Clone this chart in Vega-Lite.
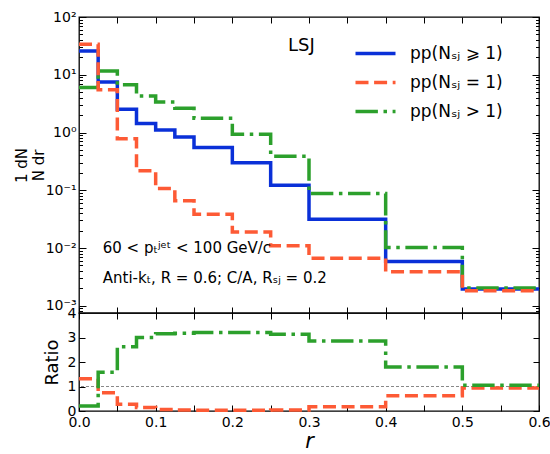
{
  "$schema": "https://vega.github.io/schema/vega-lite/v6.json",
  "padding": {"left": 13, "top": 9, "right": 0, "bottom": 0},
  "datasets": {
    "dist": [
      {"r": 0, "s": "ge", "v": 25.8}, {"r": 0.025, "s": "ge", "v": 7.5}, {"r": 0.05, "s": "ge", "v": 2.53},
      {"r": 0.075, "s": "ge", "v": 1.43}, {"r": 0.1, "s": "ge", "v": 1.11}, {"r": 0.125, "s": "ge", "v": 0.84},
      {"r": 0.15, "s": "ge", "v": 0.55}, {"r": 0.2, "s": "ge", "v": 0.30}, {"r": 0.25, "s": "ge", "v": 0.122},
      {"r": 0.3, "s": "ge", "v": 0.0316}, {"r": 0.4, "s": "ge", "v": 0.00585}, {"r": 0.5, "s": "ge", "v": 0.00195},
      {"r": 0.6, "s": "ge", "v": 0.00195},
      {"r": 0, "s": "gt", "v": 6.0}, {"r": 0.025, "s": "gt", "v": 11.6}, {"r": 0.05, "s": "gt", "v": 6.7},
      {"r": 0.075, "s": "gt", "v": 4.3}, {"r": 0.1, "s": "gt", "v": 3.39}, {"r": 0.125, "s": "gt", "v": 2.63},
      {"r": 0.15, "s": "gt", "v": 1.77}, {"r": 0.2, "s": "gt", "v": 0.93}, {"r": 0.25, "s": "gt", "v": 0.39},
      {"r": 0.3, "s": "gt", "v": 0.0877}, {"r": 0.4, "s": "gt", "v": 0.0102}, {"r": 0.5, "s": "gt", "v": 0.00204},
      {"r": 0.6, "s": "gt", "v": 0.00204},
      {"r": 0, "s": "eq", "v": 33.7}, {"r": 0.025, "s": "eq", "v": 5.5}, {"r": 0.05, "s": "eq", "v": 0.78},
      {"r": 0.075, "s": "eq", "v": 0.217}, {"r": 0.1, "s": "eq", "v": 0.107}, {"r": 0.125, "s": "eq", "v": 0.066},
      {"r": 0.15, "s": "eq", "v": 0.0386}, {"r": 0.2, "s": "eq", "v": 0.019}, {"r": 0.25, "s": "eq", "v": 0.0109},
      {"r": 0.3, "s": "eq", "v": 0.00668}, {"r": 0.4, "s": "eq", "v": 0.0039}, {"r": 0.5, "s": "eq", "v": 0.00182},
      {"r": 0.6, "s": "eq", "v": 0.00182}
    ],
    "ratio": [
      {"r": 0, "s": "eq", "v": 1.32}, {"r": 0.025, "s": "eq", "v": 0.74}, {"r": 0.05, "s": "eq", "v": 0.28},
      {"r": 0.075, "s": "eq", "v": 0.14}, {"r": 0.1, "s": "eq", "v": 0.06}, {"r": 0.125, "s": "eq", "v": 0.04},
      {"r": 0.15, "s": "eq", "v": 0.03}, {"r": 0.2, "s": "eq", "v": 0.03}, {"r": 0.25, "s": "eq", "v": 0.04},
      {"r": 0.3, "s": "eq", "v": 0.17}, {"r": 0.4, "s": "eq", "v": 0.62}, {"r": 0.5, "s": "eq", "v": 0.94},
      {"r": 0.6, "s": "eq", "v": 0.94},
      {"r": 0, "s": "gt", "v": 0.2}, {"r": 0.025, "s": "gt", "v": 1.58}, {"r": 0.05, "s": "gt", "v": 2.62},
      {"r": 0.075, "s": "gt", "v": 3.0}, {"r": 0.1, "s": "gt", "v": 3.15}, {"r": 0.125, "s": "gt", "v": 3.17},
      {"r": 0.15, "s": "gt", "v": 3.2}, {"r": 0.2, "s": "gt", "v": 3.2}, {"r": 0.25, "s": "gt", "v": 3.13},
      {"r": 0.3, "s": "gt", "v": 2.86}, {"r": 0.4, "s": "gt", "v": 1.8}, {"r": 0.5, "s": "gt", "v": 1.05},
      {"r": 0.6, "s": "gt", "v": 1.05}
    ],
    "one": [{}]
  },
  "spacing": 0,
  "bounds": "flush",
  "resolve": {"scale": {"color": "independent", "strokeDash": "independent"}},
  "vconcat": [
    {
      "width": 460,
      "height": 296,
      "data": {"name": "dist"},
      "layer": [
        {
          "mark": {"type": "line", "interpolate": "step-after", "strokeWidth": 3.5, "strokeCap": "butt", "strokeJoin": "miter"},
          "encoding": {
            "x": {
              "field": "r", "type": "quantitative",
              "scale": {"domain": [0, 0.6], "nice": false},
              "axis": {"orient": "bottom", "values": [0, 0.05, 0.1, 0.15, 0.2, 0.25, 0.3, 0.35, 0.4, 0.45, 0.5, 0.55, 0.6], "labels": false, "title": null, "tickSize": -6}
            },
            "y": {
              "field": "v", "type": "quantitative",
              "scale": {"type": "log", "domain": [0.00075, 100], "nice": false},
              "axis": {
                "orient": "left",
                "values": [0.0008, 0.0009, 0.001, 0.002, 0.003, 0.004, 0.005, 0.006, 0.007, 0.008, 0.009, 0.01, 0.02, 0.03, 0.04, 0.05, 0.06, 0.07, 0.08, 0.09, 0.1, 0.2, 0.3, 0.4, 0.5, 0.6, 0.7, 0.8, 0.9, 1, 2, 3, 4, 5, 6, 7, 8, 9, 10, 20, 30, 40, 50, 60, 70, 80, 90, 100],
                "tickSize": {"condition": {"test": "abs(log(datum.value)/LN10 - round(log(datum.value)/LN10)) < 0.001", "value": -7}, "value": -3.5},
                "labelExpr": "datum.value > 99 ? '10²' : abs(datum.value-10) < 0.001 ? '10¹' : abs(datum.value-1) < 0.0001 ? '10⁰' : abs(datum.value-0.1) < 0.00001 ? '10⁻¹' : abs(datum.value-0.01) < 0.000001 ? '10⁻²' : abs(datum.value-0.001) < 0.0000001 ? '10⁻³' : ''",
                "labelOverlap": false,
                "labelPadding": 10,
                "title": ["1 dN", "N dr"],
                "titleFontSize": 15,
                "titleLineHeight": 17,
                "titleFontWeight": "normal",
                "titlePadding": -1
              }
            },
            "color": {
              "field": "s", "type": "nominal",
              "scale": {"domain": ["ge", "eq", "gt"], "range": ["#0a30d8", "#fd5a35", "#2ca02c"]},
              "legend": {
                "orient": "none", "legendX": 288, "legendY": 28, "title": null, "padding": 0,
                "symbolType": "M-20,0H20", "symbolSize": 4, "symbolStrokeWidth": 3.5,
                "labelFontSize": 17, "labelOffset": 26, "rowPadding": 11,
                "labelExpr": "datum.label == 'ge' ? 'pp(Nₛⱼ ⩾ 1)' : datum.label == 'eq' ? 'pp(Nₛⱼ = 1)' : 'pp(Nₛⱼ > 1)'"
              }
            },
            "strokeDash": {
              "field": "s", "type": "nominal",
              "scale": {"domain": ["ge", "eq", "gt"], "range": [[1, 0], [13, 5.6], [22.4, 5.6, 3.5, 5.6]]},
              "legend": {
                "orient": "none", "legendX": 288, "legendY": 28, "title": null, "padding": 0,
                "symbolType": "M-20,0H20", "symbolSize": 4, "symbolStrokeWidth": 3.5,
                "labelFontSize": 17, "labelOffset": 26, "rowPadding": 11,
                "labelExpr": "datum.label == 'ge' ? 'pp(Nₛⱼ ⩾ 1)' : datum.label == 'eq' ? 'pp(Nₛⱼ = 1)' : 'pp(Nₛⱼ > 1)'"
              }
            }
          }
        },
        {
          "mark": {"type": "point", "opacity": 0},
          "encoding": {
            "x": {
              "field": "r", "type": "quantitative",
              "axis": {"orient": "top", "values": [0, 0.05, 0.1, 0.15, 0.2, 0.25, 0.3, 0.35, 0.4, 0.45, 0.5, 0.55, 0.6], "labels": false, "title": null, "tickSize": -6}
            },
            "y": {
              "field": "v", "type": "quantitative",
              "axis": {
                "orient": "right",
                "values": [0.0008, 0.0009, 0.001, 0.002, 0.003, 0.004, 0.005, 0.006, 0.007, 0.008, 0.009, 0.01, 0.02, 0.03, 0.04, 0.05, 0.06, 0.07, 0.08, 0.09, 0.1, 0.2, 0.3, 0.4, 0.5, 0.6, 0.7, 0.8, 0.9, 1, 2, 3, 4, 5, 6, 7, 8, 9, 10, 20, 30, 40, 50, 60, 70, 80, 90, 100],
                "tickSize": {"condition": {"test": "abs(log(datum.value)/LN10 - round(log(datum.value)/LN10)) < 0.001", "value": -7}, "value": -3.5},
                "labels": false, "title": null
              }
            }
          }
        },
        {
          "data": {"name": "one"},
          "mark": {"type": "text", "text": "LSJ", "fontSize": 18, "align": "center", "baseline": "middle"},
          "encoding": {"x": {"datum": 0.29, "axis": null}, "y": {"datum": 31.5, "axis": null}}
        },
        {
          "data": {"name": "one"},
          "mark": {"type": "text", "text": "60 < pₜʲᵉᵗ < 100 GeV/c", "fontSize": 15, "align": "left", "baseline": "middle"},
          "encoding": {"x": {"datum": 0.031, "axis": null}, "y": {"datum": 0.0101, "axis": null}}
        },
        {
          "data": {"name": "one"},
          "mark": {"type": "text", "text": "Anti-kₜ, R = 0.6; C/A, Rₛⱼ = 0.2", "fontSize": 15, "align": "left", "baseline": "middle"},
          "encoding": {"x": {"datum": 0.031, "axis": null}, "y": {"datum": 0.00305, "axis": null}}
        }
      ],
      "resolve": {"axis": {"x": "independent", "y": "independent"}}
    },
    {
      "width": 460,
      "height": 98,
      "data": {"name": "ratio"},
      "layer": [
        {
          "data": {"name": "one"},
          "mark": {"type": "rule", "color": "#888888", "strokeWidth": 1, "strokeDash": [3, 2]},
          "encoding": {"y": {"datum": 1, "axis": null}}
        },
        {
          "mark": {"type": "line", "interpolate": "step-after", "strokeWidth": 3.5, "strokeCap": "butt", "strokeJoin": "miter"},
          "encoding": {
            "x": {
              "field": "r", "type": "quantitative",
              "scale": {"domain": [0, 0.6], "nice": false},
              "axis": {
                "orient": "bottom",
                "values": [0, 0.05, 0.1, 0.15, 0.2, 0.25, 0.3, 0.35, 0.4, 0.45, 0.5, 0.55, 0.6],
                "labelExpr": "abs(datum.value*10 - round(datum.value*10)) < 0.001 ? format(datum.value, '.1f') : ''",
                "labelOverlap": false, "labelFlush": false,
                "tickSize": -6, "labelPadding": 10,
                "title": "r", "titleFontSize": 21, "titleFontStyle": "italic", "titleFontWeight": "normal", "titlePadding": 1
              }
            },
            "y": {
              "field": "v", "type": "quantitative",
              "scale": {"domain": [0, 4], "nice": false},
              "axis": {
                "orient": "left", "values": [0, 1, 2, 3, 4], "tickSize": -6, "labelPadding": 9,
                "title": "Ratio", "titleFontSize": 18, "titleFontWeight": "normal", "titlePadding": 6
              }
            },
            "color": {
              "field": "s", "type": "nominal",
              "scale": {"domain": ["eq", "gt"], "range": ["#fd5a35", "#2ca02c"]},
              "legend": null
            },
            "strokeDash": {
              "field": "s", "type": "nominal",
              "scale": {"domain": ["eq", "gt"], "range": [[13, 5.6], [22.4, 5.6, 3.5, 5.6]]},
              "legend": null
            }
          }
        },
        {
          "mark": {"type": "point", "opacity": 0},
          "encoding": {
            "x": {"field": "r", "type": "quantitative", "axis": {"orient": "top", "values": [0, 0.05, 0.1, 0.15, 0.2, 0.25, 0.3, 0.35, 0.4, 0.45, 0.5, 0.55, 0.6], "labels": false, "title": null, "tickSize": -6}},
            "y": {"field": "v", "type": "quantitative", "axis": {"orient": "right", "values": [0, 1, 2, 3, 4], "labels": false, "title": null, "tickSize": -6}}
          }
        }
      ],
      "resolve": {"axis": {"x": "independent", "y": "independent"}}
    }
  ],
  "config": {
    "font": "DejaVu Sans",
    "view": {"stroke": "black", "strokeWidth": 1.3},
    "axis": {
      "domain": false, "grid": false, "tickColor": "black", "tickWidth": 1,
      "labelColor": "black", "titleColor": "black", "labelFontSize": 14,
      "labelFont": "DejaVu Sans", "titleFont": "DejaVu Sans"
    },
    "legend": {"labelFont": "DejaVu Sans", "labelColor": "black"},
    "text": {"font": "DejaVu Sans", "color": "black"}
  }
}
